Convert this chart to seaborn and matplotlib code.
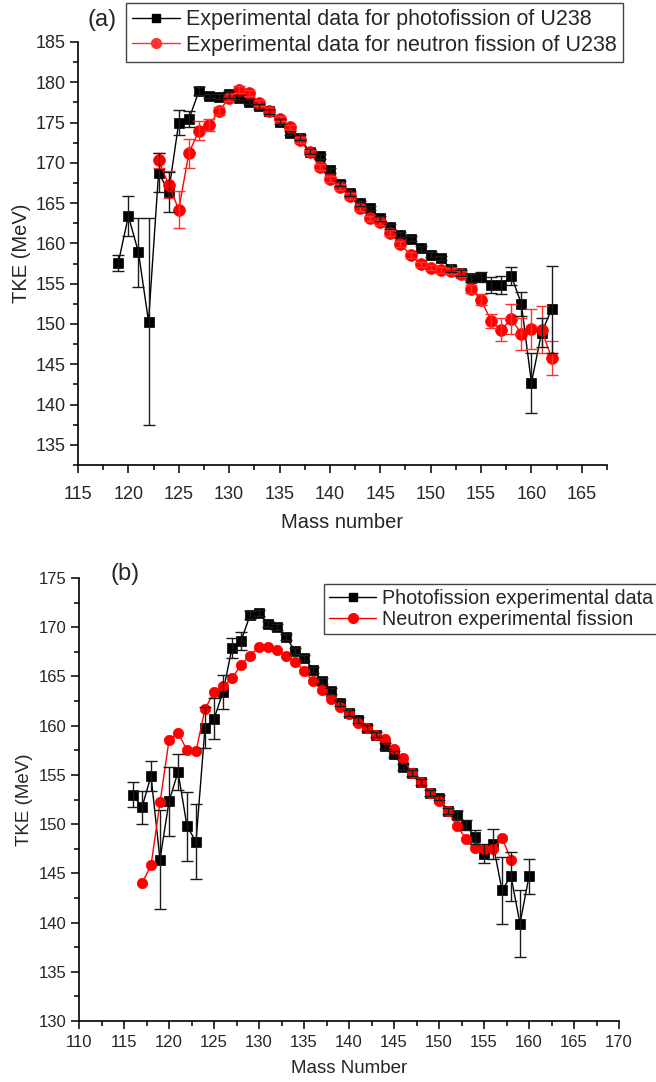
import numpy as np
import pandas as pd
import matplotlib
matplotlib.use("Agg")
import matplotlib.pyplot as plt
import seaborn as sns
from matplotlib.ticker import MultipleLocator
from matplotlib.lines import Line2D

# ---------------- Panel (a) data ----------------
a_photo_mass = list(range(119, 163))
a_photo_tke = [157.6, 163.4, 158.9, 150.3, 168.8, 166.4, 175.0, 175.4, 178.9, 178.3,
               178.2, 178.5, 178.1, 177.6, 177.0, 176.4, 175.1, 173.7, 173.1, 171.4,
               170.8, 169.1, 167.4, 166.2, 165.0, 164.4, 163.1, 162.1, 161.1, 160.6,
               159.4, 158.6, 158.2, 156.8, 156.3, 155.7, 155.8, 154.8, 154.8, 156.0,
               152.5, 142.7, 148.9, 151.8]
a_photo_err = [1.0, 2.5, 4.3, 12.8, 2.4, 2.5, 1.6, 1.0, 0.5, 0.3,
               0.3, 0.4, 0.3, 0.3, 0.3, 0.3, 0.3, 0.3, 0.3, 0.3,
               0.3, 0.3, 0.3, 0.3, 0.3, 0.3, 0.3, 0.3, 0.3, 0.3,
               0.3, 0.3, 0.3, 0.4, 0.4, 0.5, 0.6, 1.0, 1.1, 1.1,
               1.5, 3.7, 1.8, 5.4]

a_neutron_mass = list(range(123, 163))
a_neutron_tke = [170.3, 167.3, 164.2, 171.2, 174.0, 174.7, 176.4, 178.1, 179.1, 178.7,
                 177.4, 176.4, 175.5, 174.4, 172.8, 171.3, 169.5, 168.0, 167.0, 165.9,
                 164.4, 163.1, 162.6, 161.3, 159.9, 158.6, 157.4, 157.0, 156.7, 156.6,
                 156.2, 154.4, 153.0, 150.4, 149.3, 150.6, 148.8, 149.4, 149.3, 145.8]
a_neutron_err = [0.9, 1.7, 2.3, 1.8, 1.2, 0.8, 0.5, 0.4, 0.4, 0.35,
                 0.35, 0.35, 0.35, 0.35, 0.35, 0.35, 0.35, 0.35, 0.35, 0.35,
                 0.35, 0.35, 0.35, 0.35, 0.35, 0.35, 0.35, 0.35, 0.35, 0.35,
                 0.35, 0.5, 0.7, 0.9, 1.4, 1.9, 2.0, 2.5, 2.9, 2.1]

# ---------------- Panel (b) data ----------------
b_photo_mass = list(range(116, 161))
b_photo_tke = [153.0, 151.7, 154.9, 146.4, 152.3, 155.3, 149.8, 148.2, 159.8, 160.7,
               163.4, 167.9, 168.6, 171.2, 171.4, 170.3, 170.0, 169.0, 167.6, 166.9,
               165.7, 164.5, 163.5, 162.3, 161.3, 160.6, 159.8, 159.1, 157.9, 157.1,
               155.8, 155.2, 154.3, 153.2, 152.7, 151.3, 150.9, 149.9, 148.7, 147.0,
               148.0, 143.3, 144.7, 139.9, 144.7]
b_photo_err = [1.3, 1.7, 1.5, 5.0, 3.5, 1.8, 3.5, 3.8, 2.1, 2.1,
               1.7, 1.0, 0.9, 0.4, 0.3, 0.3, 0.3, 0.3, 0.3, 0.3,
               0.3, 0.3, 0.3, 0.3, 0.3, 0.3, 0.3, 0.3, 0.3, 0.3,
               0.3, 0.3, 0.3, 0.3, 0.3, 0.3, 0.4, 0.5, 0.7, 1.0,
               1.5, 3.4, 2.5, 3.4, 1.75]

b_neutron_mass = list(range(117, 159))
b_neutron_tke = [144.0, 145.8, 152.2, 158.5, 159.3, 157.5, 157.4, 161.7, 163.4, 164.0,
                 164.8, 166.2, 167.1, 168.0, 168.0, 167.7, 167.1, 166.5, 165.6, 164.5,
                 163.6, 162.7, 161.9, 161.2, 160.3, 159.8, 159.1, 158.6, 157.6, 156.7,
                 155.2, 154.3, 153.2, 152.3, 151.3, 149.8, 148.5, 147.6, 147.5, 147.5,
                 148.6, 146.4]

label_a1 = "Experimental data for photofission of U238"
label_a2 = "Experimental data for neutron fission of U238"
label_b1 = "Photofission experimental data"
label_b2 = "Neutron experimental fission"

sns.set_theme(style="ticks")
plt.rcParams['font.family'] = ['Liberation Sans', 'DejaVu Sans']

W, H = 656, 1082
fig = plt.figure(figsize=(W / 100, H / 100), dpi=100)


def frac_axes(left, top, right, bottom):
    return fig.add_axes([left / W, 1 - bottom / H, (right - left) / W, (bottom - top) / H])


axA = frac_axes(78, 42, 607, 465)
axB = frac_axes(79, 578, 619, 1021)


def draw(ax, pm, pt, pe, nm, nt, ne, msq, mci):
    dfp = pd.DataFrame({"Mass": pm, "TKE": pt})
    dfn = pd.DataFrame({"Mass": nm, "TKE": nt})
    sns.lineplot(data=dfp, x="Mass", y="TKE", ax=ax, color="black", lw=1.0,
                 marker="s", markersize=msq, markeredgecolor="black",
                 markeredgewidth=0.5, zorder=3, legend=False)
    sns.lineplot(data=dfn, x="Mass", y="TKE", ax=ax, color="#ff0000", lw=1.0,
                 marker="o", markersize=mci, markeredgecolor="#ff0000",
                 markeredgewidth=0.5, zorder=4, legend=False)
    if ne is not None:
        ax.errorbar(nm, nt, yerr=ne, fmt="none", ecolor="#ff3030", elinewidth=1.0,
                    capsize=4, capthick=1.0, zorder=5)
    ax.errorbar(pm, pt, yerr=pe, fmt="none", ecolor="#1a1a1a", elinewidth=1.0,
                capsize=4, capthick=1.0, zorder=6)


draw(axA, a_photo_mass, a_photo_tke, a_photo_err,
     a_neutron_mass, a_neutron_tke, a_neutron_err, 7.5, 8.5)
draw(axB, b_photo_mass, b_photo_tke, b_photo_err,
     b_neutron_mass, b_neutron_tke, None, 6.5, 7.5)

axA.set_xlim(115, 167.5)
axA.set_ylim(132.5, 185)
axB.set_xlim(110, 170)
axB.set_ylim(130, 175)

for ax, fs, xpad in ((axA, 13, 9), (axB, 12, 4)):
    ax.xaxis.set_major_locator(MultipleLocator(5))
    ax.xaxis.set_minor_locator(MultipleLocator(2.5))
    ax.yaxis.set_major_locator(MultipleLocator(5))
    ax.yaxis.set_minor_locator(MultipleLocator(2.5))
    ax.tick_params(which="major", direction="out", length=6, width=1.1,
                   labelsize=fs, color="black", pad=3)
    ax.tick_params(axis="x", which="major", pad=xpad)
    ax.tick_params(which="minor", direction="out", length=3.5, width=1.1, color="black")
    for s in ("top", "right"):
        ax.spines[s].set_visible(False)
    for s in ("left", "bottom"):
        ax.spines[s].set_linewidth(1.2)
        ax.spines[s].set_color("black")

axA.set_xlabel("Mass number", fontsize=14.5, labelpad=7)
axA.set_ylabel("TKE (MeV)", fontsize=14.5, labelpad=3)
axB.set_xlabel("Mass Number", fontsize=13.5, labelpad=7)
axB.set_ylabel("TKE (MeV)", fontsize=13.5, labelpad=4)

hA = [Line2D([0], [0], color="black", lw=1.0, marker="s", markersize=6),
      Line2D([0], [0], color="#ff3030", lw=1.0, marker="o", markersize=7)]
legA = axA.legend(hA, [label_a1, label_a2], loc="upper left",
                  bbox_to_anchor=(126 / W, 1 - 3 / H), bbox_transform=fig.transFigure,
                  fontsize=15.5, frameon=True, fancybox=False, framealpha=1,
                  edgecolor="#444444", handlelength=2.2, handletextpad=0.3,
                  borderpad=0.3, labelspacing=0.2, borderaxespad=0)
legA.get_frame().set_linewidth(1.0)

hB = [Line2D([0], [0], color="black", lw=1.0, marker="s", markersize=6),
      Line2D([0], [0], color="#ff0000", lw=1.0, marker="o", markersize=7)]
legB = axB.legend(hB, [label_b1, label_b2], loc="upper left",
                  bbox_to_anchor=(324 / W, 1 - 584 / H), bbox_transform=fig.transFigure,
                  fontsize=14.2, frameon=True, fancybox=False, framealpha=1,
                  edgecolor="#444444", handlelength=2.4, handletextpad=0.3,
                  borderpad=0.25, labelspacing=0.1, borderaxespad=0)
legB.get_frame().set_linewidth(1.0)

fig.text(102 / W, 1 - 20 / H, "(a)", fontsize=17, ha="center", va="center")
fig.text(125 / W, 1 - 574 / H, "(b)", fontsize=17, ha="center", va="center")

fig.savefig("out.png", dpi=100)
